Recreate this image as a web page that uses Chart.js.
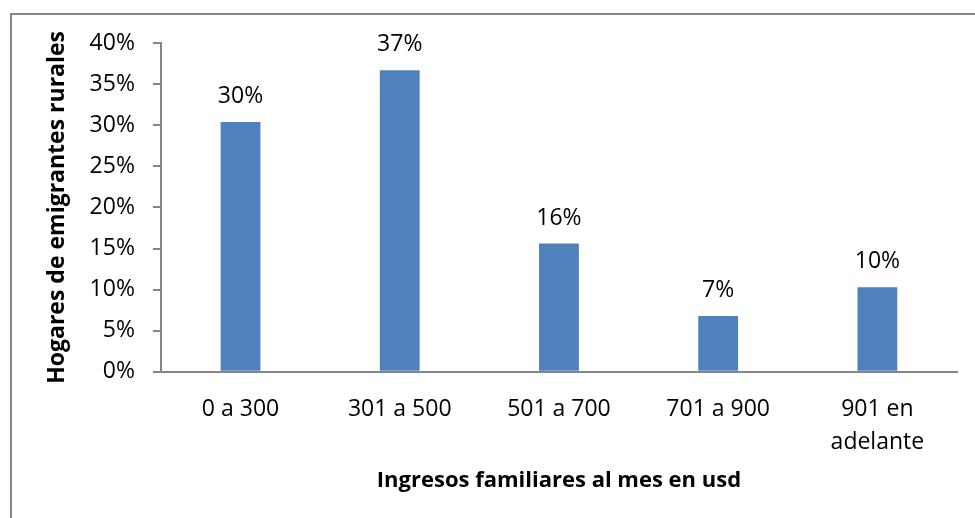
<!DOCTYPE html>
<html>
<head>
<meta charset="utf-8">
<script src="https://cdn.jsdelivr.net/npm/chart.js@4"></script>
<style>
  body { margin: 0; background: #fff; }
  #frame {
    position: absolute;
    left: 10px;
    top: 13px;
    width: 975px;
    height: 520px;
    border-top: 2px solid #868686;
    border-left: 2px solid #868686;
  }
  #wrap { position: absolute; left: 0; top: 0; width: 975px; height: 518px; }
</style>
</head>
<body>
<div id="frame"></div>
<div id="wrap"><canvas id="myChart" width="975" height="518"></canvas></div>
<script>
const CATEGORIES = ["0 a 300", "301 a 500", "501 a 700", "701 a 900", ["901 en", "adelante"]];
const HOUSEHOLDS = [30.4, 36.7, 15.6, 6.8, 10.3];
const Y_TICKS = [0, 5, 10, 15, 20, 25, 30, 35, 40];

const FONT = "'Open Sans', sans-serif";
const AXIS_GRAY = "#868686";

const valueLabels = {
  id: "valueLabels",
  afterDatasetsDraw(chart) {
    const ctx = chart.ctx;
    const meta = chart.getDatasetMeta(0);
    ctx.save();
    ctx.font = "23px " + FONT;
    ctx.fillStyle = "#000";
    ctx.textAlign = "center";
    ctx.textBaseline = "alphabetic";
    meta.data.forEach((bar, i) => {
      ctx.fillText(Math.round(HOUSEHOLDS[i]) + "%", bar.x, bar.y - 19);
    });
    ctx.restore();
  },
};

const ctx = document.getElementById("myChart").getContext("2d");

new Chart(ctx, {
  type: "bar",
  data: {
    labels: CATEGORIES,
    datasets: [
      {
        data: HOUSEHOLDS,
        backgroundColor: "#4F81BD",
        barPercentage: 0.25,
        categoryPercentage: 1,
      },
    ],
  },
  options: {
    responsive: false,
    animation: false,
    layout: {
      padding: { top: 43, right: 18, left: 44, bottom: 24 },
    },
    plugins: {
      legend: { display: false },
      tooltip: { enabled: false },
    },
    scales: {
      x: {
        grid: { display: true, drawOnChartArea: false, drawTicks: false },
        border: { display: true, color: AXIS_GRAY, width: 2 },
        ticks: {
          color: "#000",
          padding: 21,
          font: { family: FONT, size: 23, lineHeight: 1.43 },
        },
        title: {
          display: true,
          text: "Ingresos familiares al mes en usd",
          color: "#000",
          font: { family: FONT, size: 22, weight: "bold" },
          padding: { top: -12, bottom: 0 },
        },
      },
      y: {
        min: 0,
        max: 40,
        afterBuildTicks: (axis) => {
          axis.ticks = Y_TICKS.map((v) => ({ value: v }));
        },
        grid: {
          drawOnChartArea: false,
          drawTicks: true,
          tickLength: 8,
          color: AXIS_GRAY,
          lineWidth: 2,
        },
        border: { display: true, color: AXIS_GRAY, width: 2 },
        ticks: {
          color: "#000",
          padding: 18,
          font: { family: FONT, size: 23 },
          callback: (v) => v + "%",
        },
        title: {
          display: true,
          text: "Hogares de emigrantes rurales",
          color: "#000",
          font: { family: FONT, size: 23, weight: "bold" },
          padding: { top: 0, bottom: 0 },
        },
      },
    },
  },
  plugins: [valueLabels],
});
</script>
</body>
</html>
